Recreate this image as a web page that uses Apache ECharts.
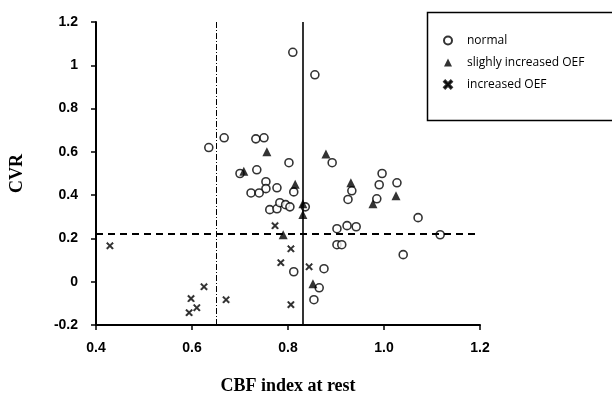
<!DOCTYPE html>
<html>
<head>
<meta charset="utf-8">
<script src="https://cdn.jsdelivr.net/npm/echarts@6/dist/echarts.min.js"></script>
<style>
  html, body { margin: 0; padding: 0; background: #fff; }
  #chart { width: 612px; height: 400px; }
</style>
</head>
<body>
<div id="chart"></div>
<script>
// [CBF index at rest, CVR]
const normalPts = [
  [0.635, 0.62], [0.667, 0.665], [0.733, 0.66], [0.75, 0.665], [0.81, 1.06],
  [0.856, 0.956], [0.802, 0.55], [0.735, 0.517], [0.70, 0.50], [0.754, 0.462],
  [0.754, 0.43], [0.777, 0.434], [0.723, 0.41], [0.74, 0.41], [0.812, 0.415],
  [0.762, 0.333], [0.777, 0.337], [0.783, 0.365], [0.795, 0.356], [0.804, 0.346],
  [0.836, 0.346], [0.892, 0.55], [0.996, 0.50], [0.99, 0.448], [1.027, 0.457],
  [0.933, 0.42], [0.925, 0.38], [0.985, 0.383], [0.812, 0.046], [0.875, 0.06],
  [0.865, -0.028], [0.854, -0.083], [0.902, 0.245], [0.923, 0.259], [0.942, 0.254],
  [0.902, 0.171], [0.912, 0.171], [1.04, 0.125], [1.071, 0.296], [1.117, 0.217]
];
const slightPts = [
  [0.708, 0.51], [0.756, 0.60], [0.815, 0.45], [0.79, 0.217], [0.831, 0.36],
  [0.831, 0.31], [0.879, 0.59], [0.931, 0.457], [0.977, 0.36], [1.025, 0.397],
  [0.852, -0.009]
];
const increasedPts = [
  [0.429, 0.166], [0.594, -0.143], [0.598, -0.078], [0.61, -0.12], [0.625, -0.023],
  [0.671, -0.083], [0.773, 0.259], [0.785, 0.088], [0.806, 0.152], [0.806, -0.106],
  [0.844, 0.069]
];
const groupNames = ['normal', 'slighly increased OEF', 'increased OEF'];

// cut-off lines
const cbfDashDot = 0.645;
const cbfSolid = 0.83;
const cvrCut = 0.22;

const xTicks = ['0.4', '0.6', '0.8', '1.0', '1.2'];
const yTicks = ['-0.2', '0', '0.2', '0.4', '0.6', '0.8', '1', '1.2'];

// chunky x marker like the scan
const crossPath = 'path://M0,1.5 L1.5,0 L5,3.5 L8.5,0 L10,1.5 L6.5,5 L10,8.5 L8.5,10 L5,6.5 L1.5,10 L0,8.5 L3.5,5 Z';
const tickFont = { fontFamily: 'Liberation Sans', fontSize: 14, fontWeight: 'bold', color: '#000' };

const chart = echarts.init(document.getElementById('chart'), null, { renderer: 'canvas' });

const option = {
  animation: false,
  backgroundColor: '#fff',
  grid: { left: 96, top: 22, width: 384, height: 303, outerBoundsMode: 'none' },
  xAxis: {
    type: 'value', min: 0.4, max: 1.2, interval: 0.2,
    name: 'CBF index at rest', nameLocation: 'middle', nameGap: 52,
    nameTextStyle: { fontFamily: 'Liberation Serif', fontSize: 18, fontWeight: 'bold', color: '#000' },
    axisLine: { onZero: false, lineStyle: { color: '#000', width: 2 } },
    axisTick: { length: 5, lineStyle: { color: '#000', width: 1.5 } },
    axisLabel: Object.assign({ margin: 16, formatter: v => xTicks[Math.round((v - 0.4) / 0.2)] }, tickFont),
    splitLine: { show: false }
  },
  yAxis: {
    type: 'value', min: -0.2, max: 1.2, interval: 0.2,
    name: 'CVR', nameLocation: 'middle', nameGap: 70, nameRotate: 90,
    nameTextStyle: { fontFamily: 'Liberation Serif', fontSize: 18, fontWeight: 'bold', color: '#000' },
    axisLine: { show: true, onZero: false, lineStyle: { color: '#000', width: 2 } },
    axisTick: { show: true, length: 5, lineStyle: { color: '#000', width: 1.5 } },
    axisLabel: Object.assign({ margin: 18, formatter: v => yTicks[Math.round((v + 0.2) / 0.2)] }, tickFont),
    splitLine: { show: false }
  },
  legend: {
    orient: 'vertical', left: 443, top: 33, padding: 0,
    itemWidth: 8, itemHeight: 8, itemGap: 7,
    data: groupNames,
    textStyle: { fontFamily: 'Open Sans', fontSize: 12, color: '#000', lineHeight: 15, padding: [0, 0, 0, 10] }
  },
  graphic: [{
    type: 'rect', left: 425, top: 10,
    shape: { width: 192, height: 108 },
    style: { fill: 'none', stroke: '#000', lineWidth: 1.5 },
    z: 100
  }],
  series: [
    {
      name: groupNames[0], type: 'scatter', data: normalPts,
      symbol: 'circle', symbolSize: 8,
      itemStyle: { color: '#fff', borderColor: '#000', borderWidth: 1.6 },
      z: 3,
      markLine: {
        silent: true, symbol: 'none', label: { show: false },
        data: [
          { xAxis: cbfDashDot, lineStyle: { color: '#000', width: 1, type: [6, 2, 1, 2] } },
          { xAxis: cbfSolid, lineStyle: { color: '#000', width: 1.6, type: 'solid' } },
          { yAxis: cvrCut, lineStyle: { color: '#000', width: 2, type: [7, 5] } }
        ]
      }
    },
    {
      name: groupNames[1], type: 'scatter', data: slightPts,
      symbol: 'triangle', symbolSize: 9,
      itemStyle: { color: '#000' },
      z: 4
    },
    {
      name: groupNames[2], type: 'scatter', data: increasedPts,
      symbol: crossPath, symbolSize: 7,
      itemStyle: { color: '#000', borderColor: '#000', borderWidth: 0.6 },
      z: 4
    }
  ]
};

chart.setOption(option);
</script>
</body>
</html>
